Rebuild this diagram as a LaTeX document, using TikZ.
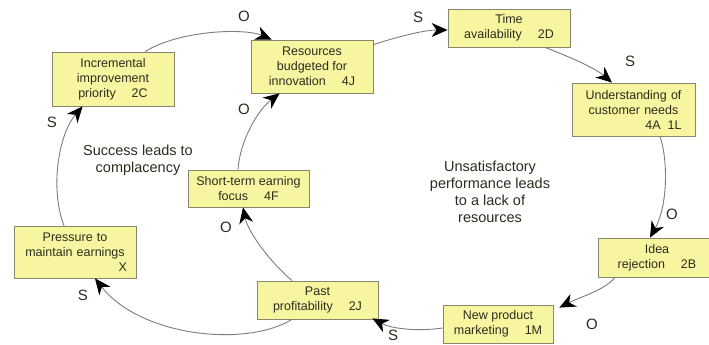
\documentclass[tikz,border=0pt]{standalone}
\usepackage{fontspec}
\setmainfont{Liberation Sans}
\usetikzlibrary{arrows.meta}
\definecolor{boxfill}{RGB}{247,245,160}
\definecolor{boxline}{RGB}{135,135,110}
\definecolor{linkcol}{RGB}{125,125,125}
\definecolor{txt}{RGB}{45,45,30}
\begin{document}
\begin{tikzpicture}[x=1pt,y=-1pt,
  boxnode/.style={draw=boxline, fill=boxfill, line width=0.8pt, inner sep=0pt,
    align=center, font=\fontsize{12.5}{15}\selectfont, text=txt},
  link/.style={draw=linkcol, line width=0.9pt,
    -{Stealth[length=16pt,width=14pt,inset=5pt,color=black]}},
  pol/.style={font=\fontsize{15}{18}\selectfont, text=txt},
  note/.style={font=\fontsize{14.5}{17}\selectfont, align=center, text=txt}]

\useasboundingbox (0,0) rectangle (709,345);
\fill[white] (0,0) rectangle (709,345);

% boxes
\node[boxnode, minimum width=122pt, minimum height=54pt] (A) at (113,79)
  {Incremental\\improvement\\priority\hspace{16pt}2C};
\node[boxnode, minimum width=122pt, minimum height=53pt] (B) at (312,66.5)
  {Resources\\budgeted for\\innovation\hspace{16pt}4J};
\node[boxnode, minimum width=122pt, minimum height=38pt] (C) at (509,28)
  {Time\\availability\hspace{16pt}2D};
\node[boxnode, minimum width=123pt, minimum height=53pt, text width=96pt] (D) at (633.5,109.5)
  {Understanding of\\customer needs\\\makebox[\hsize][r]{4A\hspace{7pt}1L}};
\node[boxnode, minimum width=118pt, minimum height=39pt] (E) at (657,257.5)
  {Idea\\rejection\hspace{16pt}2B};
\node[boxnode, minimum width=110pt, minimum height=38pt] (F) at (498,324)
  {New product\\marketing\hspace{16pt}1M};
\node[boxnode, minimum width=121pt, minimum height=38pt] (G) at (317.5,300)
  {Past\\profitability\hspace{16pt}2J};
\node[boxnode, minimum width=122pt, minimum height=52pt, text width=104pt] (H) at (75,252)
  {Pressure to\\maintain earnings\\\makebox[\hsize][r]{X}};
\node[boxnode, minimum width=121pt, minimum height=37pt] (I) at (248.5,188.5)
  {Short-term earning\\focus\hspace{16pt}4F};

% loop notes
\node[note] (n1) at (138,160) {Success leads to\\complacency};
\node[note] (n2) at (490,192) {Unsatisfactory\\performance leads\\to a lack of\\resources};

% polarity letters
\node[pol] (p1) at (244,16) {O};
\node[pol] (p2) at (418,17) {S};
\node[pol] (p3) at (630,61) {S};
\node[pol] (p4) at (672,214) {O};
\node[pol] (p5) at (592,324) {O};
\node[pol] (p6) at (393,335) {S};
\node[pol] (p7) at (83,295) {S};
\node[pol] (p8) at (226,227) {O};
\node[pol] (p9) at (244,109) {O};
\node[pol] (p10) at (52,122) {S};

% connectors
\draw[link] ([xshift=32pt]A.north) .. controls (180,30) and (245,28) .. ([xshift=21pt]B.north west);
\draw[link] ([yshift=-5pt]B.north east) .. controls (400,36) and (425,30) .. ([yshift=-2pt]C.west);
\draw[link] ([xshift=36pt]C.south) .. controls (570,57) and (595,68) .. ([xshift=-21.5pt]D.north);
\draw[link] ([xshift=26.5pt]D.south) .. controls (668,160) and (668,205) .. ([xshift=-7pt]E.north);
\draw[link] ([xshift=-42pt]E.south) .. controls (605,290) and (580,297) .. ([xshift=6pt,yshift=-3pt]F.north east);
\draw[link] ([yshift=-4pt]F.west) .. controls (415,332) and (390,328) .. ([xshift=-6pt,yshift=1pt]G.south east);
\draw[link] ([xshift=-25.5pt]G.south) .. controls (245,348) and (140,336) .. ([xshift=20pt]H.south);
\draw[link] ([xshift=-11pt]H.north) .. controls (50,190) and (58,135) .. ([xshift=31pt]A.south west);
\draw[link] ([xshift=-25.5pt]G.north) .. controls (270,262) and (248,232) .. ([xshift=-5.5pt]I.south);
\draw[link] ([xshift=-10.5pt]I.north) .. controls (240,140) and (258,110) .. ([xshift=29pt]B.south west);
\end{tikzpicture}
\end{document}
